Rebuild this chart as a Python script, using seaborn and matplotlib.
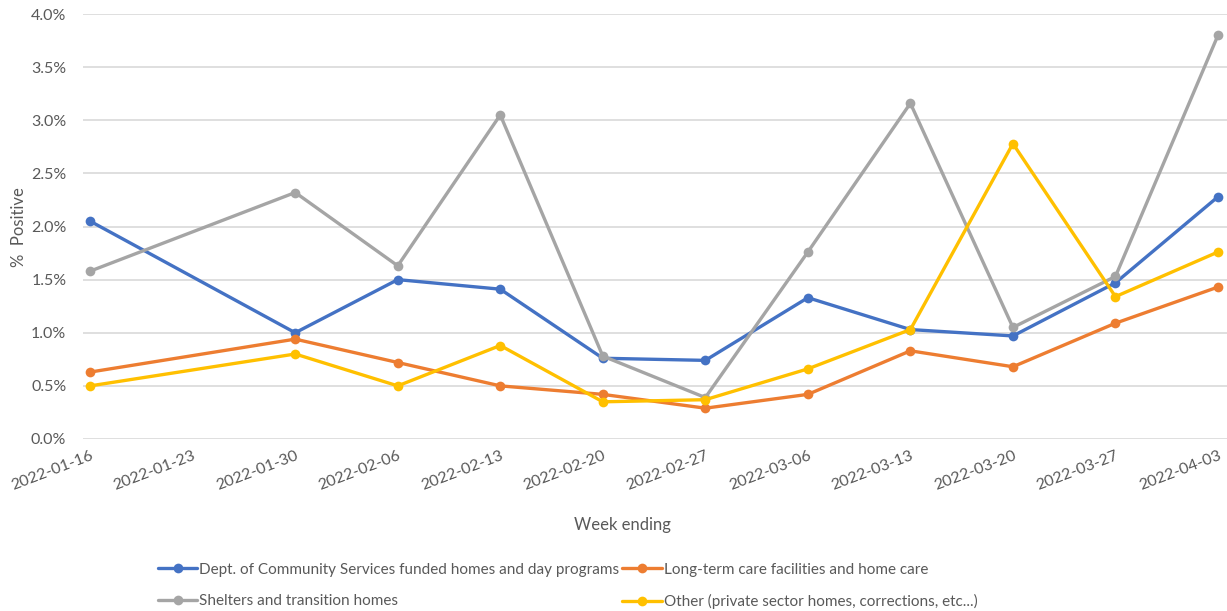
import numpy as np
import pandas as pd
import matplotlib
matplotlib.use("Agg")
import matplotlib.pyplot as plt
import matplotlib.dates as mdates
from matplotlib.ticker import FuncFormatter
import seaborn as sns

# ---- data ----
week_ending = ["2022-01-16", "2022-01-30", "2022-02-06", "2022-02-13", "2022-02-20",
               "2022-02-27", "2022-03-06", "2022-03-13", "2022-03-20", "2022-03-27",
               "2022-04-03"]
tick_labels = ["2022-01-16", "2022-01-23", "2022-01-30", "2022-02-06", "2022-02-13",
               "2022-02-20", "2022-02-27", "2022-03-06", "2022-03-13", "2022-03-20",
               "2022-03-27", "2022-04-03"]
dcs = [2.05, 1.00, 1.50, 1.41, 0.76, 0.74, 1.33, 1.03, 0.97, 1.47, 2.28]
ltc = [0.63, 0.94, 0.72, 0.50, 0.42, 0.29, 0.42, 0.83, 0.68, 1.09, 1.43]
shelters = [1.58, 2.32, 1.63, 3.05, 0.78, 0.39, 1.76, 3.16, 1.05, 1.53, 3.80]
other = [0.50, 0.80, 0.50, 0.88, 0.35, 0.37, 0.66, 1.03, 2.78, 1.34, 1.76]

series_names = ["Dept. of Community Services funded homes and day programs",
                "Long-term care facilities and home care",
                "Shelters and transition homes",
                "Other (private sector homes, corrections, etc...)"]
series_values = [dcs, ltc, shelters, other]
colors = ["#4472C4", "#ED7D31", "#A5A5A5", "#FFC000"]

rows = []
for name, vals in zip(series_names, series_values):
    for d, v in zip(week_ending, vals):
        rows.append({"week": pd.Timestamp(d), "pct": v / 100.0, "series": name})
df = pd.DataFrame(rows)

# ---- style ----
sns.set_theme(style="white")
plt.rcParams["font.family"] = ["Lato", "DejaVu Sans"]

W, H = 1227, 611
L, R, T, B = 83, 1227, 14, 439
fig = plt.figure(figsize=(W / 100, H / 100), dpi=100)
ax = fig.add_axes([L / W, 1 - B / H, (R - L) / W, (B - T) / H])

sns.lineplot(data=df, x="week", y="pct", hue="series", hue_order=series_names,
             palette=colors, marker="o", markersize=7, markeredgewidth=0,
             linewidth=2.4, ax=ax, legend=True)

# axes limits
x0 = mdates.date2num(pd.Timestamp(week_ending[0]))
x1 = mdates.date2num(pd.Timestamp(week_ending[-1]))
ax.set_xlim(x0 - 0.07 * 7, x1 + 0.088 * 7)
ax.set_ylim(0, 0.04)
ax.set_yticks(np.arange(0, 0.0401, 0.005))
ax.yaxis.set_major_formatter(FuncFormatter(lambda v, p: f"{v*100:.1f}%"))

ax.set_xticks([mdates.date2num(pd.Timestamp(t)) for t in tick_labels])
ax.set_xticklabels(tick_labels, rotation=21, ha="right", va="top",
                   rotation_mode="anchor")

ax.grid(axis="y", color="#D9D9D9", linewidth=1.2)
ax.grid(axis="x", visible=False)
for s in ax.spines.values():
    s.set_visible(False)
ax.tick_params(axis="both", length=0, colors="#595959", labelsize=11.5)
ax.tick_params(axis="x", pad=7)
ax.tick_params(axis="y", pad=12)

ax.set_xlabel("")
ax.set_ylabel("")
fig.text(622 / W, 1 - 525 / H, "Week ending", ha="center", va="center",
         fontsize=12, color="#595959")
fig.text(19 / W, 1 - 227 / H, "%  Positive", ha="center", va="center",
         rotation=90, fontsize=12, color="#595959")

# legend
handles, labels = ax.get_legend_handles_labels()
hmap = dict(zip(labels, handles))
order = [series_names[0], series_names[2], series_names[1], series_names[3]]
ax.legend_.remove()
leg = fig.legend([hmap[n] for n in order], order, ncol=2, frameon=False,
                 loc="upper left", bbox_to_anchor=(150 / W, 1 - 555 / H),
                 borderpad=0, handlelength=2.6, handletextpad=0.12,
                 columnspacing=0.2, labelspacing=1.15, fontsize=11,
                 labelcolor="#595959")

fig.savefig("out.png", dpi=100)
